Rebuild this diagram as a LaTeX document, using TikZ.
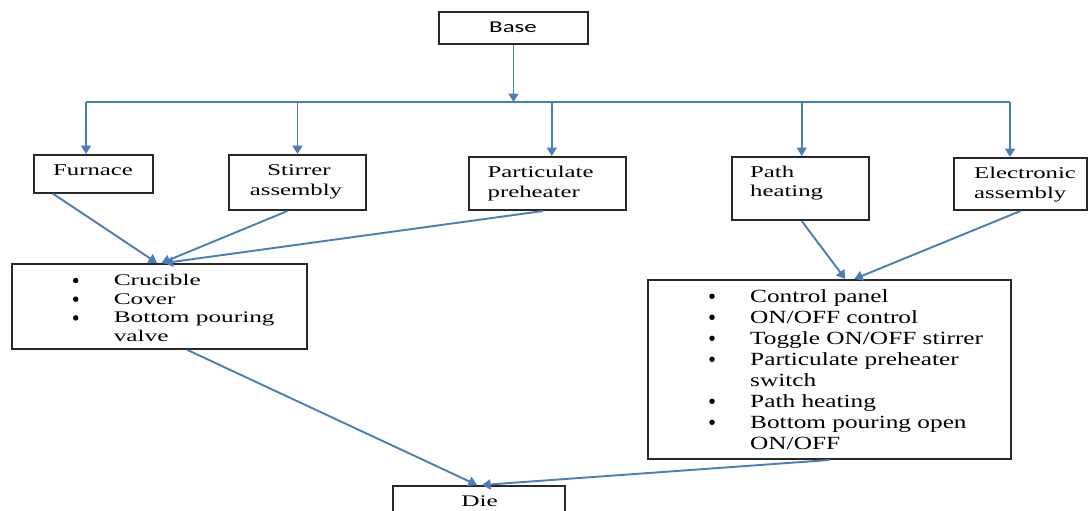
\documentclass[tikz,border=0pt]{standalone}
\usepackage{fontspec}
\setmainfont{Liberation Serif}
\newfontfamily\fTop[FakeStretch=1.5]{Liberation Serif}
\newfontfamily\fLeft[FakeStretch=1.56]{Liberation Serif}
\newfontfamily\fRight[FakeStretch=1.36]{Liberation Serif}
\newfontfamily\fBase[FakeStretch=1.5]{Carlito}
\usetikzlibrary{arrows.meta,calc}
\definecolor{arrowblue}{RGB}{74,126,187}
\definecolor{frame}{RGB}{40,40,40}
\begin{document}
\begin{tikzpicture}[x=1pt,y=-1pt,
  box/.style={draw=frame,line width=2pt,inner sep=0pt},
  link/.style={draw=arrowblue,line width=1.9pt,-{Triangle[width=10pt,length=8.5pt]}},
  wire/.style={draw=arrowblue,line width=1.9pt},
  ttop/.style={inner sep=0pt,font=\fTop\fontsize{16.5}{20}\selectfont},
  tleft/.style={inner sep=0pt,anchor=base west,font=\fLeft\fontsize{16.2}{19}\selectfont},
  tright/.style={inner sep=0pt,anchor=base west,font=\fRight\fontsize{18.6}{21}\selectfont},
  bul/.style={circle,fill=black,inner sep=0pt,minimum size=5.5pt},
]
\path[use as bounding box,clip] (0,0) rectangle (1089,511);
\fill[white] (0,0) rectangle (1089,511);

% boxes
\node[box,minimum width=149pt,minimum height=32.3pt] (base) at (513.5,27.85) {};
\node[box,minimum width=119pt,minimum height=37.7pt] (fur) at (93.5,173.85) {};
\node[box,minimum width=137pt,minimum height=55pt] (sti) at (297.5,182.5) {};
\node[box,minimum width=157.4pt,minimum height=53pt] (par) at (547.3,183.5) {};
\node[box,minimum width=137.4pt,minimum height=63pt] (pat) at (800.7,188.5) {};
\node[box,minimum width=133pt,minimum height=52pt] (ele) at (1020.5,184) {};
\node[box,minimum width=295pt,minimum height=85pt] (lb) at (159.5,306.5) {};
\node[box,minimum width=362.6pt,minimum height=179pt] (rb) at (829.3,369.5) {};
\node[box,minimum width=172pt,minimum height=44pt] (die) at (479,508) {};

% texts
\node[inner sep=0pt,anchor=base,font=\fBase\fontsize{16.6}{20}\selectfont] (tbase) at (513,32.3) {Base};
\node[ttop,anchor=base] (tfur) at (93,175.7) {Furnace};
\node[ttop,anchor=base] (tsti1) at (299,175.7) {Stirrer};
\node[ttop,anchor=base] (tsti2) at (296,195) {assembly};
\node[ttop,anchor=base west] (tpar1) at (487.5,177.7) {Particulate};
\node[ttop,anchor=base west] (tpar2) at (487.5,197) {preheater};
\node[ttop,anchor=base west] (tpat1) at (750,177.7) {Path};
\node[ttop,anchor=base west] (tpat2) at (750,196.7) {heating};
\node[ttop,anchor=base west] (tele1) at (974,178) {Electronic};
\node[ttop,anchor=base west] (tele2) at (974,198) {assembly};
\node[inner sep=0pt,anchor=base,font=\fLeft\fontsize{16.2}{19}\selectfont] (tdie) at (479.5,506.7) {Die};

% left list
\node[bul] (lb1) at (75.7,280.5) {};
\node[bul] (lb2) at (75.7,299.2) {};
\node[bul] (lb3) at (75.7,317.9) {};
\node[tleft] (lt1) at (113.6,285.5) {Crucible};
\node[tleft] (lt2) at (113.6,304.2) {Cover};
\node[tleft] (lt3) at (113.6,322.9) {Bottom pouring};
\node[tleft] (lt4) at (113.6,341.6) {valve};

% right list
\node[bul] (rb1) at (712,296.3) {};
\node[bul] (rb2) at (712,317.3) {};
\node[bul] (rb3) at (712,338.3) {};
\node[bul] (rb4) at (712,359.3) {};
\node[bul] (rb6) at (712,401.3) {};
\node[bul] (rb7) at (712,422.3) {};
\node[tright] (rt1) at (750,302.3) {Control panel};
\node[tright] (rt2) at (750,323.3) {ON/OFF control};
\node[tright] (rt3) at (750,344.3) {Toggle ON/OFF stirrer};
\node[tright] (rt4) at (750,365.3) {Particulate preheater};
\node[tright] (rt5) at (750,386.3) {switch};
\node[tright] (rt6) at (750,407.3) {Path heating};
\node[tright] (rt7) at (750,428.3) {Bottom pouring open};
\node[tright] (rt8) at (750,449.3) {ON/OFF};

% connectors
\coordinate (bar) at (513,102);
\coordinate (dF) at ([xshift=-7.5pt]fur.north);
\coordinate (dS) at (sti.north);
\coordinate (dP) at ([xshift=4.5pt]par.north);
\coordinate (dH) at ([xshift=1pt]pat.north);
\coordinate (dE) at ([xshift=-10.5pt]ele.north);
\draw[link] (base.south) -- (base.south |- bar);
\draw[wire] (dF |- bar) -- (dE |- bar);
\draw[link] (dF |- bar) -- (dF);
\draw[link] (dS |- bar) -- (dS);
\draw[link] (dP |- bar) -- (dP);
\draw[link] (dH |- bar) -- (dH);
\draw[link] (dE |- bar) -- (dE);

\draw[link] ([xshift=-40.5pt]fur.south) -- ([xshift=-2.5pt]lb.north);
\draw[link] ([xshift=-10pt]sti.south) -- ([xshift=2pt]lb.north);
\draw[link] ([xshift=-4.3pt]par.south) -- ([xshift=5pt]lb.north);
\draw[link] ([xshift=1pt]pat.south) -- ([xshift=16pt]rb.north);
\draw[link] (ele.south) -- ([xshift=25pt]rb.north);
\draw[link] ([xshift=28pt]lb.south) -- ([xshift=-2pt]die.north);
\draw[link] (rb.south) -- ([xshift=3pt]die.north);
\end{tikzpicture}
\end{document}
